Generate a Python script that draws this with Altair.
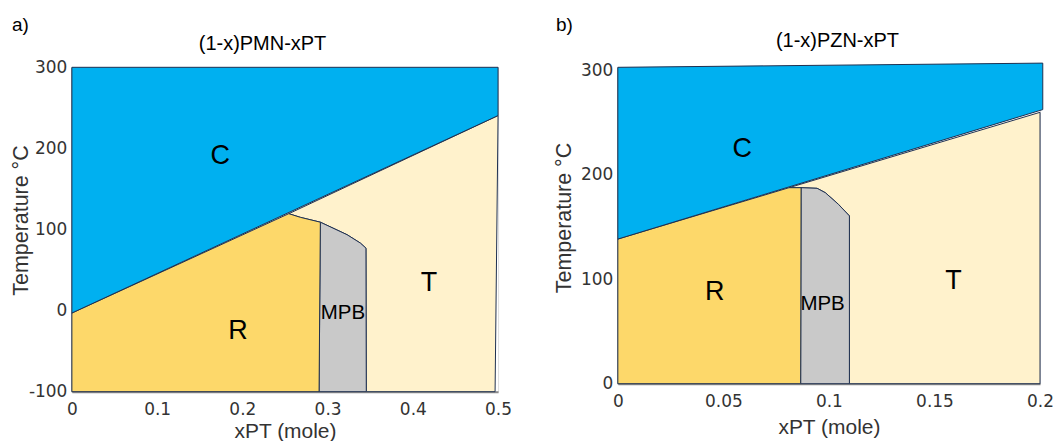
import altair as alt
import pandas as pd

# ---------------- data ----------------
# panel a: (1-x)PMN-xPT
a_C_x = [0, 0.5, 0.5, 0]
a_C_t = [300, 300, 240.5, -3]
a_R_x = [0, 0.2545, 0.268, 0.2915, 0.290, 0]
a_R_t = [-3, 119.5, 115, 109, -100, -100]
a_M_x = [0.2915, 0.3228, 0.3384, 0.345, 0.3454, 0.290]
a_M_t = [109, 93.6, 83.3, 77, -100, -100]
a_T_x = [0.2545, 0.5, 0.4965, 0.3454, 0.345, 0.3384, 0.3228, 0.2915, 0.268]
a_T_t = [119.5, 240.5, -100, -100, 77, 83.3, 93.6, 109, 115]
a_lab = ["C", "R", "T"]
a_lab_x = [0.174, 0.195, 0.419]
a_lab_t = [190, -25.5, 34]
a_mpb_x = [0.318]
a_mpb_t = [-3]
a_xticks = [0, 0.1, 0.2, 0.3, 0.4, 0.5]
a_yticks = [-100, 0, 100, 200, 300]

# panel b: (1-x)PZN-xPT
b_C_x = [0, 0.2013, 0.2013, 0]
b_C_t = [303, 307, 262.5, 138.5]
b_R_x = [0, 0.0811, 0.0868, 0.0866, 0]
b_R_t = [138.5, 187.7, 187.7, 0, 0]
b_M_x = [0.0868, 0.0944, 0.0983, 0.1045, 0.1097, 0.1097, 0.0866]
b_M_t = [187.7, 187.1, 182.9, 171.8, 160.7, 0, 0]
b_T_x = [0.0811, 0.2, 0.2, 0.1097, 0.1097, 0.1045, 0.0983, 0.0944, 0.0868]
b_T_t = [187.7, 259.9, 0, 0, 160.7, 171.8, 182.9, 187.1, 187.7]
b_lab = ["C", "R", "T"]
b_lab_x = [0.0589, 0.0459, 0.159]
b_lab_t = [224.3, 87.5, 98.7]
b_mpb_x = [0.097]
b_mpb_t = [76.4]
b_xticks = [0, 0.05, 0.1, 0.15, 0.2]
b_yticks = [0, 100, 200, 300]

COL = {"C": "#00B0F0", "R": "#FDD86A", "M": "#C9C9C9", "T": "#FFF2CC"}
EDGE = "#1F3050"
FONT = "Liberation Sans"
TICKFONT = "DejaVu Sans"


def panel(d, xdom, ydom, xticks, yticks, w, h, title, title_dx, title_dy,
          letter, letter_dx, ytitle_x, ytitle_y, xlab_pad, xtitle_y):
    xsc = alt.Scale(domain=xdom, nice=False, zero=False)
    ysc = alt.Scale(domain=ydom, nice=False, zero=False)
    ax_x = alt.Axis(values=xticks, format="~g", title="xPT (mole)", ticks=False,
                    grid=False, labelFont=TICKFONT, labelFontSize=17,
                    labelColor="#333333", labelPadding=xlab_pad, labelFlush=False,
                    domainColor="#8a8a8a", domainWidth=2,
                    titleFont=FONT, titleFontSize=21, titleFontWeight="normal",
                    titleColor="#333333", titleBaseline="middle", titleY=xtitle_y)
    ax_y = alt.Axis(values=yticks, title="Temperature °C", ticks=False,
                    grid=False, labelFont=TICKFONT, labelFontSize=17,
                    labelColor="#333333", labelPadding=5, labelFlush=False,
                    labelExpr="replace(datum.label, '\u2212', '-')",
                    domainColor="#8a8a8a", domainWidth=2,
                    titleFont=FONT, titleFontSize=21.5, titleFontWeight="normal",
                    titleColor="#333333", titleBaseline="middle",
                    titleX=ytitle_x, titleY=ytitle_y)
    X = alt.X("x:Q", scale=xsc, axis=ax_x, title="xPT (mole)")
    Y = alt.Y("t:Q", scale=ysc, axis=ax_y, title="Temperature °C")

    def poly(xs, ts, color):
        df = pd.DataFrame({"x": xs, "t": ts, "i": list(range(len(xs)))})
        return alt.Chart(df).mark_line(
            fill=color, stroke=EDGE, strokeWidth=1, interpolate="linear-closed"
        ).encode(x=X, y=Y, order=alt.Order("i:Q"))

    layers = [
        poly(d["T"][0], d["T"][1], COL["T"]),
        poly(d["M"][0], d["M"][1], COL["M"]),
        poly(d["R"][0], d["R"][1], COL["R"]),
        poly(d["C"][0], d["C"][1], COL["C"]),
    ]
    lab = pd.DataFrame({"x": d["lab"][0], "t": d["lab"][1], "s": d["lab"][2]})
    layers.append(alt.Chart(lab).mark_text(font=FONT, fontSize=27, color="black").encode(
        x=X, y=Y, text="s:N"))
    mpb = pd.DataFrame({"x": d["mpb"][0], "t": d["mpb"][1], "s": ["MPB"]})
    layers.append(alt.Chart(mpb).mark_text(font=FONT, fontSize=20.5, color="black").encode(
        x=X, y=Y, text="s:N"))
    tdf = pd.DataFrame({"s": [title]})
    layers.append(alt.Chart(tdf).mark_text(font=FONT, fontSize=20, color="black",
                                           align="center", baseline="middle").encode(
        x=alt.value(title_dx), y=alt.value(title_dy), text="s:N"))
    ldf = pd.DataFrame({"s": [letter]})
    layers.append(alt.Chart(ldf).mark_text(font=FONT, fontSize=19, color="black",
                                           align="left", baseline="middle").encode(
        x=alt.value(letter_dx), y=alt.value(-42), text="s:N"))
    return alt.layer(*layers).properties(width=w, height=h)


da = {"C": (a_C_x, a_C_t), "R": (a_R_x, a_R_t), "M": (a_M_x, a_M_t), "T": (a_T_x, a_T_t),
      "lab": (a_lab_x, a_lab_t, a_lab), "mpb": (a_mpb_x, a_mpb_t)}
db = {"C": (b_C_x, b_C_t), "R": (b_R_x, b_R_t), "M": (b_M_x, b_M_t), "T": (b_T_x, b_T_t),
      "lab": (b_lab_x, b_lab_t, b_lab), "mpb": (b_mpb_x, b_mpb_t)}

pa = panel(da, [0, 0.5], [-100, 300], a_xticks, a_yticks, 427, 325,
           "(1-x)PMN-xPT", 191, -23, "a)", -60, -50, 153, 10, 39.5)
pb = panel(db, [0, 0.2], [0, 303], b_xticks, b_yticks, 423, 317,
           "(1-x)PZN-xPT", 220, -26, "b)", -62, -53.5, 150.5, 10, 43.8)

chart = alt.hconcat(pa, pb, spacing=40).properties(
    padding={"left": 2, "top": 7, "right": 0, "bottom": 0}
).configure_view(stroke=None).configure(background="white")

chart.save("out.html", embed_options={"renderer": "svg", "actions": False})
